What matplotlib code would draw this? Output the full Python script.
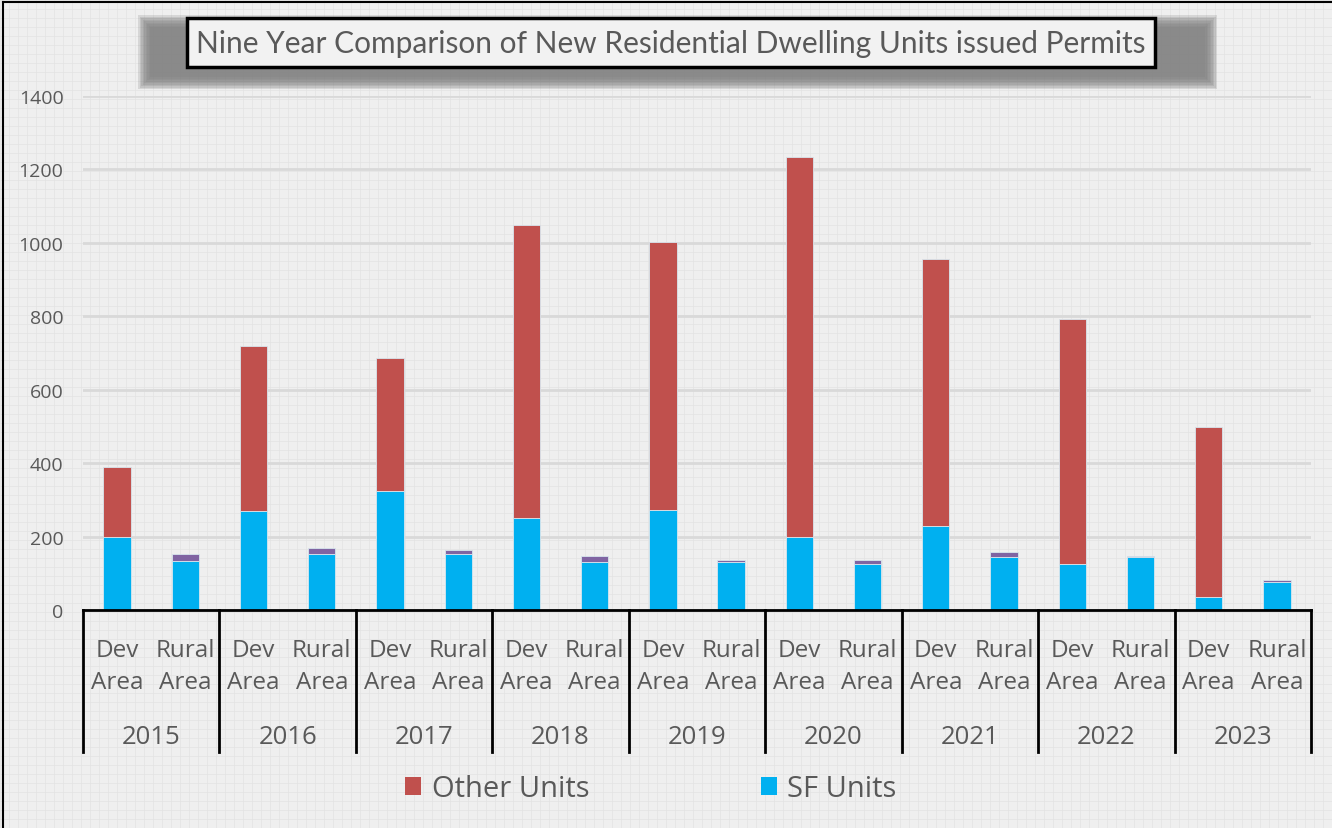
import matplotlib
matplotlib.use("Agg")
import matplotlib.pyplot as plt
from matplotlib.patches import Rectangle
from matplotlib.lines import Line2D
import numpy as np

# ---------------- data ----------------
years = ["2015", "2016", "2017", "2018", "2019", "2020", "2021", "2022", "2023"]
areas = ["Dev\nArea", "Rural\nArea"]
sf_dev = [198, 269, 323, 251, 272, 199, 229, 125, 35]
other_dev = [191, 450, 363, 798, 730, 1034, 728, 668, 464]
sf_rural = [133, 153, 152, 131, 131, 125, 144, 143, 76]
other_rural = [19, 16, 11, 17, 5, 12, 14, 5, 6]
title = "Nine Year Comparison of New Residential Dwelling Units issued Permits"
yticks = [0, 200, 400, 600, 800, 1000, 1200, 1400]

RED = "#C0504D"
BLUE = "#00B0F0"
PURPLE = "#8064A2"
TXT = "#595959"
BG = "#efefef"

W, H = 1332, 829
fig = plt.figure(figsize=(W / 100, H / 100), dpi=100, facecolor=BG)

# faint background texture grid
for x in np.arange(0, W, 9):
    fig.add_artist(Line2D([x / W, x / W], [0, 1], color="#e3e3e3", lw=0.5, zorder=-10))
for y in np.arange(0, H, 9):
    fig.add_artist(Line2D([0, 1], [y / H, y / H], color="#e3e3e3", lw=0.5, zorder=-10))

# figure border (left and top only)
fig.add_artist(Line2D([3 / W, 3 / W], [0, 1 - 3 / H], color="black", lw=1.5, zorder=5))
fig.add_artist(Line2D([3 / W, 1], [1 - 3 / H, 1 - 3 / H], color="black", lw=1.5, zorder=5))

ax_left, ax_right, ax_top, ax_bot = 83, 1311, 97, 611
ax = fig.add_axes([ax_left / W, (H - ax_bot) / H, (ax_right - ax_left) / W, (ax_bot - ax_top) / H])
ax.set_facecolor("none")

n = len(years)
x_dev = np.arange(n) * 2
x_rur = np.arange(n) * 2 + 1
bw = 0.4
ek = dict(edgecolor="#d8e6ee", linewidth=0.6, zorder=3)
ax.bar(x_dev, sf_dev, bw, color=BLUE, label="SF Units", **ek)
ax.bar(x_dev, other_dev, bw, bottom=sf_dev, color=RED, label="Other Units", **ek)
ax.bar(x_rur, sf_rural, bw, color=BLUE, **ek)
ax.bar(x_rur, other_rural, bw, bottom=sf_rural, color=PURPLE, **ek)

ax.set_xlim(-0.5, 2 * n - 0.5)
ax.set_ylim(0, 1400)
ax.set_yticks(yticks)
ax.set_yticklabels([str(v) for v in yticks], color=TXT, fontsize=14, family="Open Sans")
ax.tick_params(axis="y", length=0, pad=14)
ax.set_xticks([])
for s in ax.spines.values():
    s.set_visible(False)
ax.grid(axis="y", color="#d9d9d9", lw=2, zorder=0)
ax.set_axisbelow(True)

# category axis table
def yf(py):
    return (ax_bot - py) / (ax_bot - ax_top)

trans = ax.get_xaxis_transform()
ax.plot([-0.5, 2 * n - 0.5], [0, 0], transform=trans, color="black", lw=2, clip_on=False, zorder=4)
for b in np.arange(n + 1) * 2 - 0.5:
    ax.plot([b, b], [0, yf(753)], transform=trans, color="black", lw=2, clip_on=False, zorder=4)
for i in range(n):
    ax.text(x_dev[i], yf(667), areas[0], transform=trans, ha="center", va="center",
            fontsize=17.5, color=TXT, family="Open Sans", linespacing=1.45)
    ax.text(x_rur[i], yf(667), areas[1], transform=trans, ha="center", va="center",
            fontsize=17.5, color=TXT, family="Open Sans", linespacing=1.45)
    ax.text(x_dev[i] + 0.5, yf(738), years[i], transform=trans, ha="center", va="center",
            fontsize=18.5, color=TXT, family="Open Sans")

# title with blurred shadow box
x0, x1, y0, y1 = 150, 1205, 28, 78
for k in range(8, -1, -1):
    pad = k * 1.5
    fig.add_artist(Rectangle(((x0 - pad) / W, (H - y1 - pad) / H),
                             (x1 - x0 + 2 * pad) / W, (y1 - y0 + 2 * pad) / H,
                             transform=fig.transFigure, facecolor="#808080",
                             edgecolor="none", alpha=0.22, zorder=6))
fig.add_artist(Rectangle((187 / W, (H - 68) / H), (1155 - 187) / W, 49 / H, transform=fig.transFigure,
                         facecolor="#f2f2f2", edgecolor="black", lw=2.5, zorder=7))
tt = fig.text(671 / W, 1 - 44 / H, title, ha="center", va="center", fontsize=20,
              color=TXT, family="Lato", zorder=8)
# fit title width to the box
fig.canvas.draw()
wpx = tt.get_window_extent(renderer=fig.canvas.get_renderer()).width
tt.set_fontsize(20 * 950 / wpx)

# legend
h_other = Rectangle((0, 0), 1, 1, facecolor=RED)
h_sf = Rectangle((0, 0), 1, 1, facecolor=BLUE)
leg = fig.legend([h_other, h_sf], ["Other Units", "SF Units"], loc="center",
                 bbox_to_anchor=(651 / W, 1 - 790 / H), ncol=2, frameon=False,
                 handlelength=0.55, handleheight=0.55, handletextpad=0.35, columnspacing=5.9,
                 prop={"family": "Open Sans", "size": 21})
for t in leg.get_texts():
    t.set_color(TXT)

fig.savefig("out.png", dpi=100, facecolor=BG)
